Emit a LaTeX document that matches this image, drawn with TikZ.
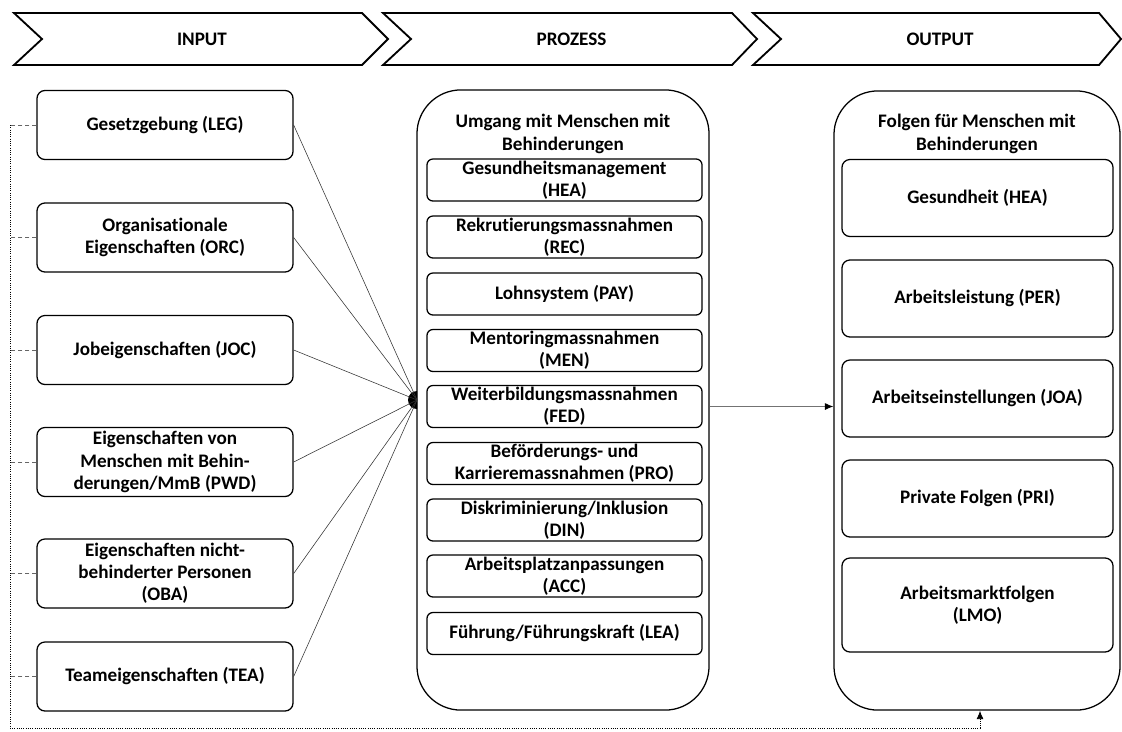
\documentclass[tikz,border=0pt]{standalone}
\usepackage{fontspec}
\setmainfont{Carlito}[Ligatures=NoCommon]
\usetikzlibrary{arrows.meta}

\begin{document}
\begin{tikzpicture}[x=0.025cm,y=-0.025cm,
  lbl/.style={font=\bfseries\fontsize{13.6pt}{15.8pt}\selectfont,align=center,inner sep=0pt},
  chevron/.style={draw=black,line width=1.3pt,line join=miter},
  inbox/.style={lbl,shape=rectangle,rounded corners=0.2cm,draw=black,line width=0.9pt,minimum width=6.4cm,minimum height=1.725cm},
  procbox/.style={lbl,shape=rectangle,rounded corners=0.15cm,draw=black,line width=0.9pt,minimum width=6.875cm,minimum height=1.05cm},
  outbox/.style={lbl,shape=rectangle,rounded corners=0.2cm,draw=black,line width=0.9pt,minimum width=6.775cm,minimum height=1.925cm},
  column/.style={shape=rectangle,rounded corners=1.1cm,draw=black,line width=0.9pt,minimum width=7.3cm,minimum height=15.5cm,inner sep=0pt},
  link/.style={draw=black!80,line width=0.4pt},
  stub/.style={draw=black!60,densely dashed,line width=0.5pt},
  back/.style={draw=black,densely dotted,line width=0.6pt}]
  \useasboundingbox (0,0) rectangle (1122,731);

  % phases
  \foreach \l/\e/\t/\txt in {14/362/388/INPUT,383/732/757/PROZESS,753/1099/1121/OUTPUT} {
    \draw[chevron] (\l,13) -- (\e,13) -- (\t,39) -- (\e,65) -- (\l,65) -- (\l+28,39) -- cycle;
    \node[lbl] (\txt) at ({(\l+28+\e)/2},39) {\txt};
  }

  % input
  \node[inbox] (leg) at (165,125) {Gesetzgebung (LEG)};
  \node[inbox] (orc) at (165,237.5) {Organisationale\\Eigenschaften (ORC)};
  \node[inbox] (joc) at (165,350) {Jobeigenschaften (JOC)};
  \node[inbox] (pwd) at (165,462) {Eigenschaften von\\Menschen mit Behin-\\derungen/MmB (PWD)};
  \node[inbox] (oba) at (165,573.5) {Eigenschaften nicht-\\behinderter Personen\\(OBA)};
  \node[inbox] (tea) at (165,676.5) {Teameigenschaften (TEA)};

  % process
  \node[column] (proc) at (563,400) {};
  \node[lbl] (proctitle) at (563,134) {Umgang mit Menschen mit\\Behinderungen};
  \node[procbox] (hea) at (564.5,180) {Gesundheitsmanagement\\(HEA)};
  \node[procbox] (rec) at (564.5,237) {Rekrutierungsmassnahmen\\(REC)};
  \node[procbox] (pay) at (564.5,294) {Lohnsystem (PAY)};
  \node[procbox] (men) at (564.5,350.5) {Mentoringmassnahmen\\(MEN)};
  \node[procbox] (fed) at (564.5,406.5) {Weiterbildungsmassnahmen\\(FED)};
  \node[procbox] (pro) at (564.5,463.5) {Beförderungs- und\\Karrieremassnahmen (PRO)};
  \node[procbox] (din) at (564.5,520) {Diskriminierung/Inklusion\\(DIN)};
  \node[procbox] (acc) at (564.5,576) {Arbeitsplatzanpassungen\\(ACC)};
  \node[procbox] (lea) at (564.5,633.5) {Führung/Führungskraft (LEA)};

  % output
  \node[column,minimum width=7.15cm,minimum height=15.475cm] (outc) at (977,400.5) {};
  \node[lbl] (outtitle) at (977,134) {Folgen für Menschen mit\\Behinderungen};
  \node[outbox] (ohea) at (977.5,198) {Gesundheit (HEA)};
  \node[outbox] (per) at (977.5,298.5) {Arbeitsleistung (PER)};
  \node[outbox] (joa) at (977.5,398.5) {Arbeitseinstellungen (JOA)};
  \node[outbox] (pri) at (977.5,498.5) {Private Folgen (PRI)};
  \node[outbox,minimum height=2.35cm] (lmo) at (977.5,605) {Arbeitsmarktfolgen\\(LMO)};

  % links into the process
  \coordinate (hub) at (417,400);
  \fill (hub) ++(0,-9) arc[start angle=90,end angle=270,radius=0.225cm] -- cycle;
  \foreach \n in {leg,orc,joc,pwd,oba,tea}
    \draw[link] (\n.east) -- (hub);
  \draw[draw=black!55,line width=0.6pt,-{Latex[black,length=6pt,width=5pt]}] (proc.east |- fed.center) -- (outc.west |- fed.center);

  % feedback
  \coordinate (fbtop) at (10,125);
  \coordinate (fbbot) at (10,728);
  \foreach \n in {leg,orc,joc,pwd,oba,tea}
    \draw[stub] (\n.west) -- (\n.west -| fbtop);
  \draw[back,-{Latex[length=6pt,width=5pt]}] (fbtop) -- (fbbot) -| ([xshift=0.075cm]outc.south);
\end{tikzpicture}
\end{document}
